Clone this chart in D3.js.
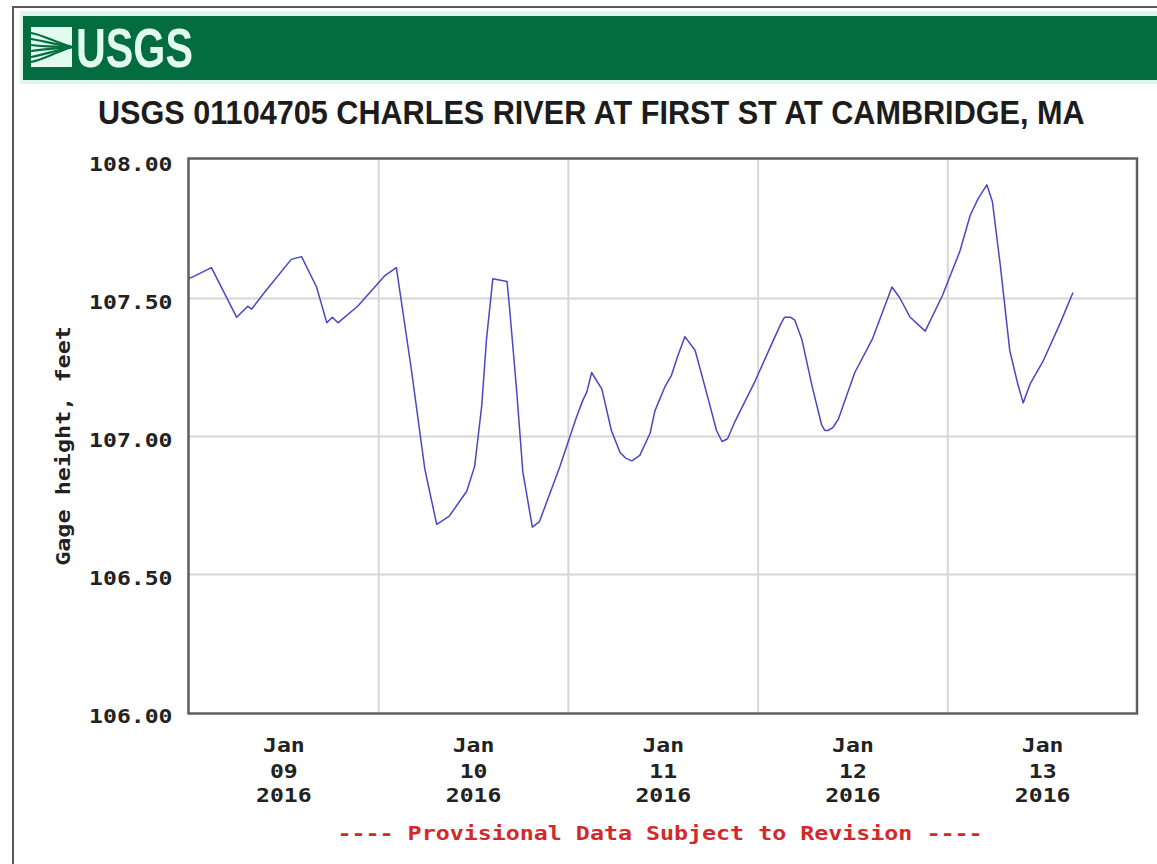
<!DOCTYPE html>
<html>
<head>
<meta charset="utf-8">
<script src="https://cdn.jsdelivr.net/npm/d3@7"></script>
<style>
  body { margin: 0; background: #fff; }
  svg { display: block; }
</style>
</head>
<body>
<svg id="chart" width="1157" height="864"></svg>
<script>
// ---- Station and labels ----
const stationTitle = "USGS 01104705 CHARLES RIVER AT FIRST ST AT CAMBRIDGE, MA";
const yAxisTitle = "Gage height, feet";
const footnote = "---- Provisional Data Subject to Revision ----";

// ---- Series: gage height readings, hours after 2016-01-09 00:00 ----
const startTime = "2016-01-09T00:00:00Z";
const hoursSinceStart = [
  0.0, 0.8, 2.9, 6.1, 7.5, 8.0, 9.6, 13.0, 14.3, 16.2, 17.5, 18.2, 18.9, 21.4,
  24.8, 26.3, 28.2, 29.9, 31.4, 33.0, 35.2, 36.2, 37.1, 37.7, 38.5, 40.3, 40.6,
  41.5, 42.3, 43.5, 44.4, 47.0, 49.1, 49.9, 50.4, 51.0, 52.3, 53.5, 54.6, 55.3,
  56.1, 57.1, 58.4, 59.0, 60.3, 61.1, 61.9, 62.8, 64.1, 65.7, 66.8, 67.5, 68.2,
  69.1, 71.7, 74.2, 75.0, 75.4, 76.2, 76.7, 77.6, 78.9, 80.1, 80.5, 80.9, 81.5,
  82.2, 84.3, 86.5, 89.0, 90.0, 91.3, 93.2, 95.4, 97.6, 98.9, 99.9, 101.0, 101.7,
  102.7, 103.9, 104.9, 105.6, 106.5, 108.1, 110.3, 111.9
];
const gageHeight = [
  107.57, 107.58, 107.61, 107.43, 107.47, 107.46, 107.52, 107.64, 107.65, 107.54,
  107.41, 107.43, 107.41, 107.47, 107.58, 107.61, 107.24, 106.88, 106.68, 106.71,
  106.80, 106.89, 107.11, 107.35, 107.57, 107.56, 107.47, 107.17, 106.87, 106.67,
  106.69, 106.89, 107.07, 107.13, 107.16, 107.23, 107.17, 107.02, 106.94, 106.92,
  106.91, 106.93, 107.01, 107.09, 107.18, 107.22, 107.29, 107.36, 107.31, 107.14,
  107.02, 106.98, 106.99, 107.05, 107.20, 107.36, 107.41, 107.43, 107.43, 107.42,
  107.35, 107.18, 107.04, 107.02, 107.02, 107.03, 107.06, 107.23, 107.35, 107.54,
  107.50, 107.43, 107.38, 107.51, 107.67, 107.80, 107.86, 107.91, 107.85, 107.62,
  107.31, 107.19, 107.12, 107.19, 107.27, 107.41, 107.52
];

// ---- Axes ----
const yTicks = [106.0, 106.5, 107.0, 107.5, 108.0];
const yDomain = [106.0, 108.0];
const xDomain = ["2016-01-09T00:00:00Z", "2016-01-14T00:00:00Z"];
const dayGrid = ["2016-01-10T00:00:00Z", "2016-01-11T00:00:00Z", "2016-01-12T00:00:00Z", "2016-01-13T00:00:00Z"];
const dayLabels = ["2016-01-09T12:00:00Z", "2016-01-10T12:00:00Z", "2016-01-11T12:00:00Z", "2016-01-12T12:00:00Z", "2016-01-13T12:00:00Z"];

const svg = d3.select("#chart");
const W = 1157, H = 864;
const plot = { left: 188.5, right: 1137, top: 160, bottom: 712 };
const mono = "'DejaVu Sans Mono', 'Liberation Mono', monospace";
const narrow = "'Liberation Sans Narrow', 'Liberation Sans', Arial, sans-serif";
const charW = 13.9;

const t0 = new Date(startTime).getTime();
const series = hoursSinceStart.map((h, i) => ({ t: new Date(t0 + h * 3600e3), v: gageHeight[i] }));

const x = d3.scaleUtc().domain(xDomain.map(d => new Date(d))).range([plot.left, plot.right]);
const y = d3.scaleLinear().domain(yDomain).range([plot.bottom, plot.top]);

// Squeeze a text horizontally so it spans exactly `width` pixels from (x0, y0).
function fitWidth(sel, x0, y0, width) {
  const natural = sel.node().getComputedTextLength();
  sel.attr("transform", `translate(${x0},${y0}) scale(${width / natural},1)`);
  return sel;
}

// ---- Page frame ----
svg.append("rect").attr("width", W).attr("height", H).attr("fill", "#fff");
svg.append("path").attr("d", `M13,${H} V7 H${W}`).attr("fill", "none")
  .attr("stroke", "#5a5a5a").attr("stroke-width", 2);

// ---- Header band with logo ----
svg.append("rect").attr("x", 20).attr("y", 11).attr("width", W - 20).attr("height", 73).attr("fill", "#dff5ea");
svg.append("rect").attr("x", 23).attr("y", 16).attr("width", W - 23).attr("height", 64).attr("fill", "#036d40");

const logo = svg.append("g").attr("transform", "translate(31,27)");
logo.append("rect").attr("width", 41).attr("height", 40).attr("fill", "#e2fbef");
[6, 12, 18, 24, 30, 35].forEach((yy, i) => {
  logo.append("path")
    .attr("d", `M0,${yy} C12,${yy + (i < 3 ? 2 : -2)} 22,${20 + (yy - 20) * 0.4} 41,20`)
    .attr("fill", "none").attr("stroke", "#036d40").attr("stroke-width", 2.2);
});
fitWidth(svg.append("text")
  .attr("font-family", narrow).attr("font-weight", "bold").attr("font-size", 56)
  .attr("fill", "#e2fbef").text("USGS"), 76, 67, 117);

// ---- Title ----
fitWidth(svg.append("text")
  .attr("font-family", narrow).attr("font-weight", "bold").attr("font-size", 34)
  .attr("fill", "#1c1c1c").text(stationTitle), 98, 124, 987);

// ---- Grid ----
const grid = svg.append("g");
grid.append("g").attr("transform", `translate(${plot.left},0)`)
  .call(d3.axisLeft(y).tickValues(yTicks.filter(v => v > yDomain[0] && v < yDomain[1]))
    .tickSize(-(plot.right - plot.left)).tickFormat(""))
  .call(g => g.select(".domain").remove())
  .call(g => g.selectAll("line").attr("stroke", "#d6d6d6").attr("stroke-width", 2));
grid.append("g").attr("transform", `translate(0,${plot.bottom})`)
  .call(d3.axisBottom(x).tickValues(dayGrid.map(d => new Date(d)))
    .tickSize(-(plot.bottom - plot.top)).tickFormat(""))
  .call(g => g.select(".domain").remove())
  .call(g => g.selectAll("line").attr("stroke", "#d6d6d6").attr("stroke-width", 2));

// ---- Series line ----
svg.append("path").datum(series)
  .attr("d", d3.line().x(d => x(d.t)).y(d => y(d.v)))
  .attr("fill", "none").attr("stroke", "#4848c4").attr("stroke-width", 1.5)
  .attr("stroke-linejoin", "round");

// ---- Plot frame ----
svg.append("rect").attr("x", plot.left).attr("y", plot.top - 1.5)
  .attr("width", plot.right - plot.left).attr("height", plot.bottom - plot.top + 3)
  .attr("fill", "none").attr("stroke", "#5e5e5e").attr("stroke-width", 2.5);

// ---- Y axis labels ----
const yAxis = svg.append("g").attr("transform", `translate(${plot.left},0)`)
  .call(d3.axisLeft(y).tickValues(yTicks).tickSize(0).tickPadding(0).tickFormat(d3.format(".2f")));
yAxis.select(".domain").remove();
yAxis.selectAll("text")
  .attr("x", -16).attr("dy", null).attr("y", 10)
  .attr("font-family", mono).attr("font-weight", "bold").attr("font-size", 20)
  .attr("fill", "#222")
  .each(function () {
    const s = d3.select(this);
    s.attr("textLength", s.text().length * charW).attr("lengthAdjust", "spacingAndGlyphs");
  });

svg.append("text")
  .attr("transform", "translate(70,446) rotate(-90)")
  .attr("text-anchor", "middle")
  .attr("font-family", mono).attr("font-weight", "bold").attr("font-size", 20)
  .attr("textLength", yAxisTitle.length * 14.1).attr("lengthAdjust", "spacingAndGlyphs")
  .attr("fill", "#222").text(yAxisTitle);

// ---- X axis labels (month / day / year) ----
const xAxis = svg.append("g").attr("transform", `translate(0,${plot.bottom})`)
  .call(d3.axisBottom(x).tickValues(dayLabels.map(d => new Date(d))).tickSize(0).tickFormat(""));
xAxis.select(".domain").remove();
const lineFormats = [d3.utcFormat("%b"), d3.utcFormat("%d"), d3.utcFormat("%Y")];
const lineBase = [40, 66, 90];
xAxis.selectAll(".tick").each(function (d) {
  const g = d3.select(this);
  g.select("text").remove();
  lineFormats.forEach((f, i) => {
    const s = f(d);
    g.append("text").attr("y", lineBase[i]).attr("text-anchor", "middle")
      .attr("font-family", mono).attr("font-weight", "bold").attr("font-size", 20)
      .attr("textLength", s.length * charW).attr("lengthAdjust", "spacingAndGlyphs")
      .attr("fill", "#222").text(s);
  });
});

// ---- Footnote ----
svg.append("text").attr("x", 660).attr("y", 840).attr("text-anchor", "middle")
  .attr("font-family", mono).attr("font-weight", "bold").attr("font-size", 20)
  .attr("textLength", 645).attr("lengthAdjust", "spacingAndGlyphs")
  .attr("fill", "#d22a2a").text(footnote);
</script>
</body>
</html>
